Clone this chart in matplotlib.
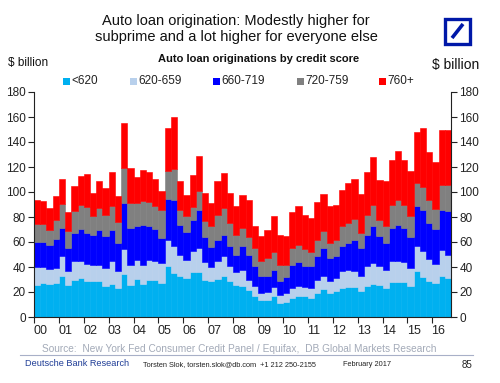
import numpy as np
import matplotlib
matplotlib.use("Agg")
import matplotlib.pyplot as plt
from matplotlib.patches import Rectangle
from matplotlib.lines import Line2D

plt.rcParams['font.family'] = ['Liberation Sans', 'DejaVu Sans']

# Quarterly data 2000Q1 .. 2016Q3 ($ billion)
years = ["00", "01", "02", "03", "04", "05", "06", "07", "08",
         "09", "10", "11", "12", "13", "14", "15", "16"]
labels = ["<620", "620-659", "660-719", "720-759", "760+"]
colors = ["#00B0F0", "#B8D0EC", "#0000FF", "#808080", "#FF0000"]

s_lt620 = [25.9, 27.2, 26.4, 26.9, 32.5, 25.3, 29.9, 31.0, 28.5, 28.5, 28.5, 25.1,
           26.7, 23.2, 34.7, 26.0, 30.7, 26.7, 29.9, 29.3, 27.2, 40.5, 35.2, 33.0,
           31.0, 36.0, 36.0, 30.0, 28.5, 30.7, 32.5, 28.5, 26.0, 25.0, 21.5, 16.5,
           13.5, 13.5, 16.5, 11.0, 12.0, 15.5, 16.5, 16.5, 15.2, 19.2, 22.4, 19.2,
           20.5, 23.2, 24.0, 24.0, 20.5, 25.0, 26.7, 25.3, 23.2, 27.7, 28.0, 27.7,
           24.7, 36.9, 32.0, 29.0, 27.4, 33.0, 31.5]
s_620_659 = [13.8, 12.8, 12.3, 12.3, 16.0, 11.2, 14.6, 14.1, 13.9, 13.4, 13.4, 14.1,
             17.8, 13.3, 20.0, 16.0, 15.2, 15.2, 16.0, 15.2, 16.0, 21.4, 21.3, 17.0,
             15.0, 17.0, 19.0, 14.0, 11.5, 14.3, 16.0, 12.5, 10.0, 12.8, 8.3, 8.0,
             6.0, 6.3, 7.7, 6.8, 7.0, 8.0, 8.2, 7.5, 8.0, 10.7, 10.1, 9.3,
             10.7, 13.3, 13.3, 13.0, 12.0, 16.0, 16.5, 15.7, 14.1, 17.3, 16.7, 16.7,
             14.6, 20.1, 20.8, 17.5, 14.8, 20.7, 18.0]
s_660_719 = [20.3, 20.0, 19.2, 23.2, 22.7, 18.7, 22.7, 25.3, 24.8, 24.0, 27.4, 25.3,
             24.8, 22.7, 36.5, 29.2, 26.6, 32.0, 26.6, 25.9, 20.0, 32.8, 37.4, 24.0,
             22.0, 25.0, 31.0, 20.0, 16.0, 17.0, 17.5, 16.0, 14.0, 18.9, 20.2, 16.0,
             13.5, 13.2, 13.3, 11.2, 13.4, 18.5, 19.3, 17.0, 17.3, 18.6, 22.7, 18.7,
             17.3, 20.5, 21.9, 24.9, 22.7, 24.9, 29.3, 23.5, 21.9, 26.2, 29.3, 26.6,
             24.7, 31.8, 32.7, 28.6, 28.2, 32.1, 35.0]
s_720_759 = [14.7, 14.7, 12.0, 14.9, 19.5, 13.3, 17.3, 19.5, 20.8, 14.6, 17.9, 16.8,
             19.2, 16.5, 27.8, 20.0, 18.7, 18.6, 19.2, 18.1, 22.7, 21.8, 24.5, 12.0,
             13.0, 10.0, 15.0, 13.0, 16.5, 20.0, 21.0, 18.0, 16.0, 14.3, 14.0, 14.5,
             11.5, 14.0, 14.5, 13.0, 9.6, 13.5, 14.0, 13.4, 11.2, 13.4, 13.3, 12.0,
             12.8, 15.5, 16.0, 16.5, 12.0, 16.0, 17.4, 13.4, 13.3, 18.1, 19.8, 18.7,
             16.8, 18.7, 18.7, 18.9, 15.8, 20.0, 21.0]
s_760p = [18.6, 18.3, 17.3, 19.2, 19.7, 15.2, 20.0, 22.6, 26.7, 18.7, 21.3, 21.9,
          27.2, 20.8, 36.0, 27.8, 20.8, 25.4, 24.0, 21.9, 15.1, 34.5, 41.6, 22.5,
          17.0, 26.0, 28.0, 22.0, 18.5, 26.5, 28.0, 24.0, 23.0, 27.0, 30.0, 18.0,
          20.5, 22.3, 28.5, 24.0, 23.0, 28.5, 31.0, 27.6, 27.3, 29.8, 30.2, 29.3,
          28.7, 29.5, 31.8, 32.0, 31.5, 33.8, 38.1, 32.1, 36.5, 36.7, 38.7, 36.3,
          36.2, 40.5, 46.8, 38.0, 37.8, 44.2, 44.5]

series = [s_lt620, s_620_659, s_660_719, s_720_759, s_760p]

W, H = 500, 383
fig = plt.figure(figsize=(W / 100, H / 100), dpi=100)
fig.patch.set_facecolor("white")

def fx(px):
    return px / W

def fy(py):
    return 1 - py / H

ax = fig.add_axes([fx(34), fy(317), fx(451) - fx(34), fy(92) - fy(317)])

n = len(s_lt620)
x = np.arange(n)
bottom = np.zeros(n)
for vals, col, lab in zip(series, colors, labels):
    v = np.array(vals)
    ax.bar(x, v, width=1.0, bottom=bottom, align="edge", color=col,
           edgecolor=col, linewidth=0.4, label=lab)
    bottom += v

ax.set_xlim(0, n)
ax.set_ylim(0, 180)
ax.set_yticks(np.arange(0, 181, 20))
ax.spines["top"].set_visible(False)
for s in ["left", "right", "bottom"]:
    ax.spines[s].set_linewidth(0.8)
    ax.spines[s].set_color("#222222")
ax.tick_params(axis="y", which="both", left=True, right=True, labelleft=True,
               labelright=True, direction="out", length=4, width=0.8,
               labelsize=8.5, pad=2, colors="#222222")
ax.set_xticks(np.arange(0, n + 1, 4))
ax.set_xticklabels([])
ax.tick_params(axis="x", which="major", direction="out", length=4, width=0.8,
               colors="#222222")
ax.set_xticks(np.arange(len(years)) * 4 + 1.0, minor=True)
ax.set_xticklabels(years, minor=True)
ax.tick_params(axis="x", which="minor", length=0, labelsize=9, pad=6,
               labelcolor="#222222")

# Titles
fig.text(fx(236), fy(29), "Auto loan origination: Modestly higher for\nsubprime and a lot higher for everyone else",
         ha="center", va="center", fontsize=10.5, linespacing=1.1, color="#111111")
fig.text(fx(259), fy(59), "Auto loan originations by credit score", ha="center",
         va="center", fontsize=8, fontweight="bold", color="#111111")
fig.text(fx(8), fy(63), "$ billion", ha="left", va="center", fontsize=8.5, color="#111111")
fig.text(fx(479), fy(65), "$ billion", ha="right", va="center", fontsize=10, color="#111111")

# Legend
leg_x = [63, 130, 213, 297, 379]
for lx, col, lab in zip(leg_x, colors, labels):
    fig.patches.append(Rectangle((fx(lx), fy(84.5)), fx(6.5), 6.5 / H, transform=fig.transFigure,
                                 facecolor=col, edgecolor="none"))
    fig.text(fx(lx + 8), fy(81), lab, ha="left", va="center", fontsize=8.5, color="#222222")

# DB logo
logo_col = "#0018A8"
fig.patches.append(Rectangle((fx(445), fy(44)), fx(25), 25 / H, transform=fig.transFigure,
                             facecolor="white", edgecolor=logo_col, linewidth=2.4))
fig.lines.append(Line2D([fx(452), fx(463)], [fy(38), fy(24)], transform=fig.transFigure,
                        color=logo_col, linewidth=2.6, solid_capstyle="butt"))

# Footer
fig.text(fx(239), fy(349), "Source:  New York Fed Consumer Credit Panel / Equifax,  DB Global Markets Research",
         ha="center", va="center", fontsize=7.3, color="#A3AAB8")
fig.lines.append(Line2D([fx(20), fx(473)], [fy(355), fy(355)], transform=fig.transFigure,
                        color="#A8B0C8", linewidth=0.8))
fig.text(fx(25), fy(364), "Deutsche Bank Research", ha="left", va="center",
         fontsize=6.6, color="#1E3C96")
fig.text(fx(143), fy(365), "Torsten Slok, torsten.slok@db.com  +1 212 250-2155", ha="left",
         va="center", fontsize=5.3, color="#222222")
fig.text(fx(343), fy(365), "February 2017", ha="left", va="center", fontsize=5.3, color="#222222")
fig.text(fx(472), fy(365), "85", ha="right", va="center", fontsize=7, color="#222222")

fig.savefig("out.png", dpi=100, facecolor="white")
